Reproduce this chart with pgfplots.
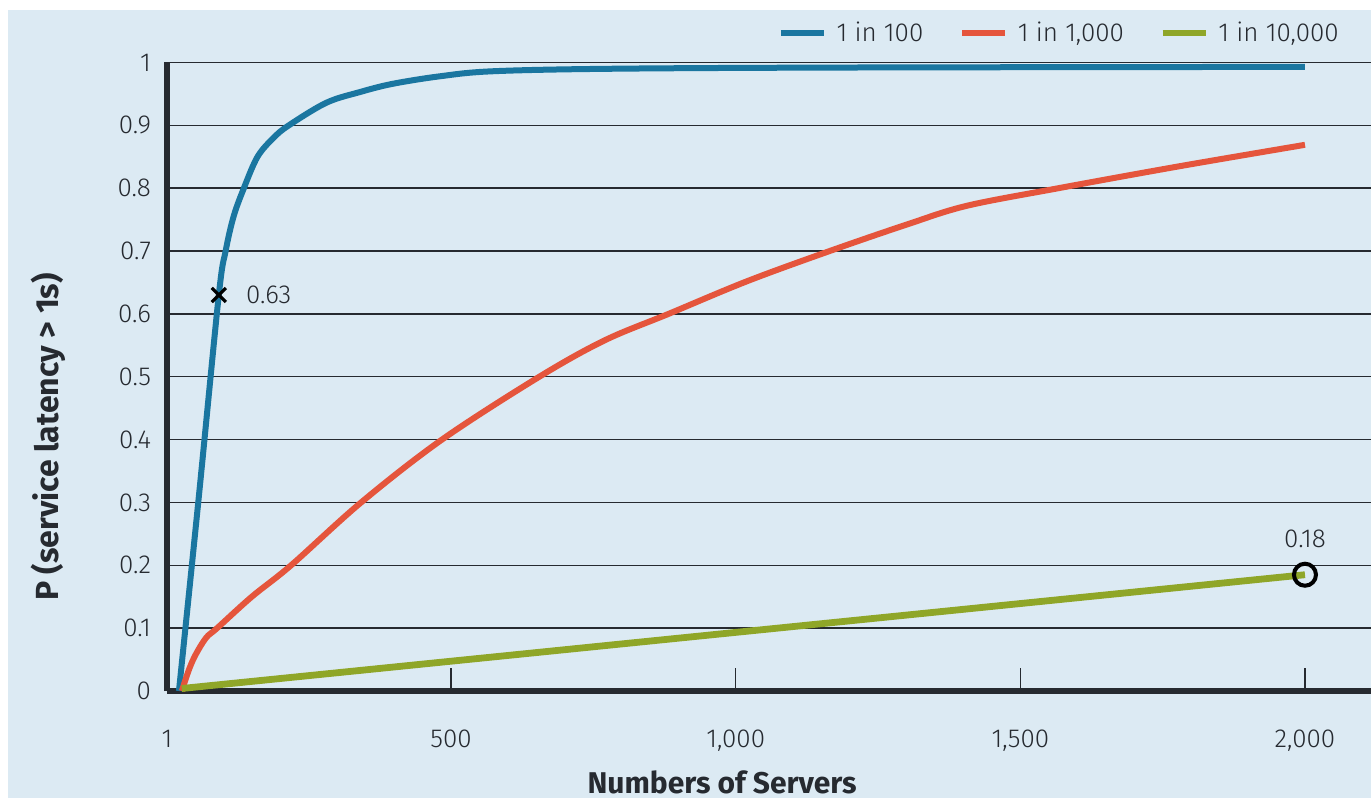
\documentclass[border=0pt]{standalone}
\usepackage{pgfplots}
\pgfplotsset{compat=1.18}
\usepackage{fontspec}
\setmainfont{Fira Sans}
\newfontfamily\tickfont{Fira Sans Light}
\definecolor{bg}{RGB}{220,234,243}
\definecolor{cblue}{RGB}{26,118,160}
\definecolor{cred}{RGB}{229,85,60}
\definecolor{cgreen}{RGB}{143,166,40}
\definecolor{cgrid}{RGB}{38,42,48}
\begin{document}
\begin{tikzpicture}
\fill[bg] (4bp,0bp) rectangle (685.5bp,394bp);
\begin{axis}[
  at={(83.5bp,53.5bp)}, anchor=south west,
  scale only axis, width=602bp, height=314.25bp,
  xmin=1, xmax=2116, ymin=0, ymax=1,
  axis x line=bottom, axis y line=left,
  axis line style={-, line width=3bp, cgrid},
  xtick={1,500,1000,1500,2000},
  xticklabels={1,500,{1,000},{1,500},{2,000}},
  ytick={0,0.1,0.2,0.3,0.4,0.5,0.6,0.7,0.8,0.9,1},
  yticklabels={0,0.1,0.2,0.3,0.4,0.5,0.6,0.7,0.8,0.9,1},
  ymajorgrids, grid style={cgrid, line width=0.75bp},
  tick align=inside,
  major tick length=11.5bp,
  x tick style={cgrid, line width=0.6bp},
  y tick style={draw=none},
  ticklabel style={font=\tickfont\fontsize{13bp}{15bp}\selectfont, text=cgrid},
  xticklabel style={yshift=-16bp},
  yticklabel style={xshift=-4.5bp},
  xlabel={Numbers of Servers},
  ylabel={P (service latency > 1s)},
  every axis x label/.style={at={(axis description cs:0.461,-0.1448)}, anchor=center, font=\bfseries\fontsize{15bp}{17bp}\selectfont, text=cgrid},
  every axis y label/.style={at={(axis description cs:-0.0988,0.404)}, anchor=center, rotate=90, font=\bfseries\fontsize{16bp}{18bp}\selectfont, text=cgrid},
  clip=false,
  legend columns=3,
  legend cell align=left,
  legend style={at={(0.742,1.047)}, anchor=center, draw=none, fill=none,
    font=\tickfont\fontsize{13bp}{15bp}\selectfont, text=cgrid,
    /tikz/every odd column/.append style={column sep=3bp},
    /tikz/every even column/.append style={column sep=16bp}},
  legend image code/.code={\draw[#1, line width=2.75bp] (0bp,0bp) -- (21.5bp,0bp);},
]
\addplot[cblue, line width=3bp, smooth, tension=0.55] coordinates {
(22,0) (57,0.31) (92,0.63) (104,0.70) (118,0.755) (136,0.80) (160,0.85) (188,0.88) (215,0.90) (281,0.936) (340,0.953) (397,0.966) (480,0.978) (572,0.986) (778,0.990) (1200,0.992) (2000,0.993)
};
\addlegendentry{1 in 100}
\addplot[cred, line width=3bp, smooth, tension=0.55] coordinates {
(27,0) (40,0.035) (52,0.059) (70,0.085) (89,0.10) (150,0.15) (219,0.20) (342,0.30) (484,0.40) (655,0.50) (770,0.558) (882,0.60) (1020,0.652) (1165,0.70) (1300,0.742) (1406,0.772) (1567,0.80) (1780,0.835) (2000,0.869)
};
\addlegendentry{1 in 1,000}
\addplot[cgreen, line width=3.4bp] coordinates {
(27,0.004) (2000,0.185)
};
\addlegendentry{1 in 10,000}
\addplot[forget plot, only marks, mark=x, mark size=5bp, line width=1.6bp, black] coordinates {(92,0.63)};
\addplot[forget plot, only marks, mark=o, mark size=5.5bp, line width=2bp, black] coordinates {(2000,0.185)};
\node[anchor=west, inner sep=0pt, xshift=13.5bp, font=\tickfont\fontsize{13bp}{15bp}\selectfont, text=cgrid] at (axis cs:92,0.63) {0.63};
\node[anchor=center, inner sep=0pt, yshift=18bp, font=\tickfont\fontsize{13bp}{15bp}\selectfont, text=cgrid] at (axis cs:2000,0.185) {0.18};
\end{axis}
\pgfresetboundingbox
\path (0bp,0bp) rectangle (685.5bp,399bp);
\end{tikzpicture}
\end{document}
